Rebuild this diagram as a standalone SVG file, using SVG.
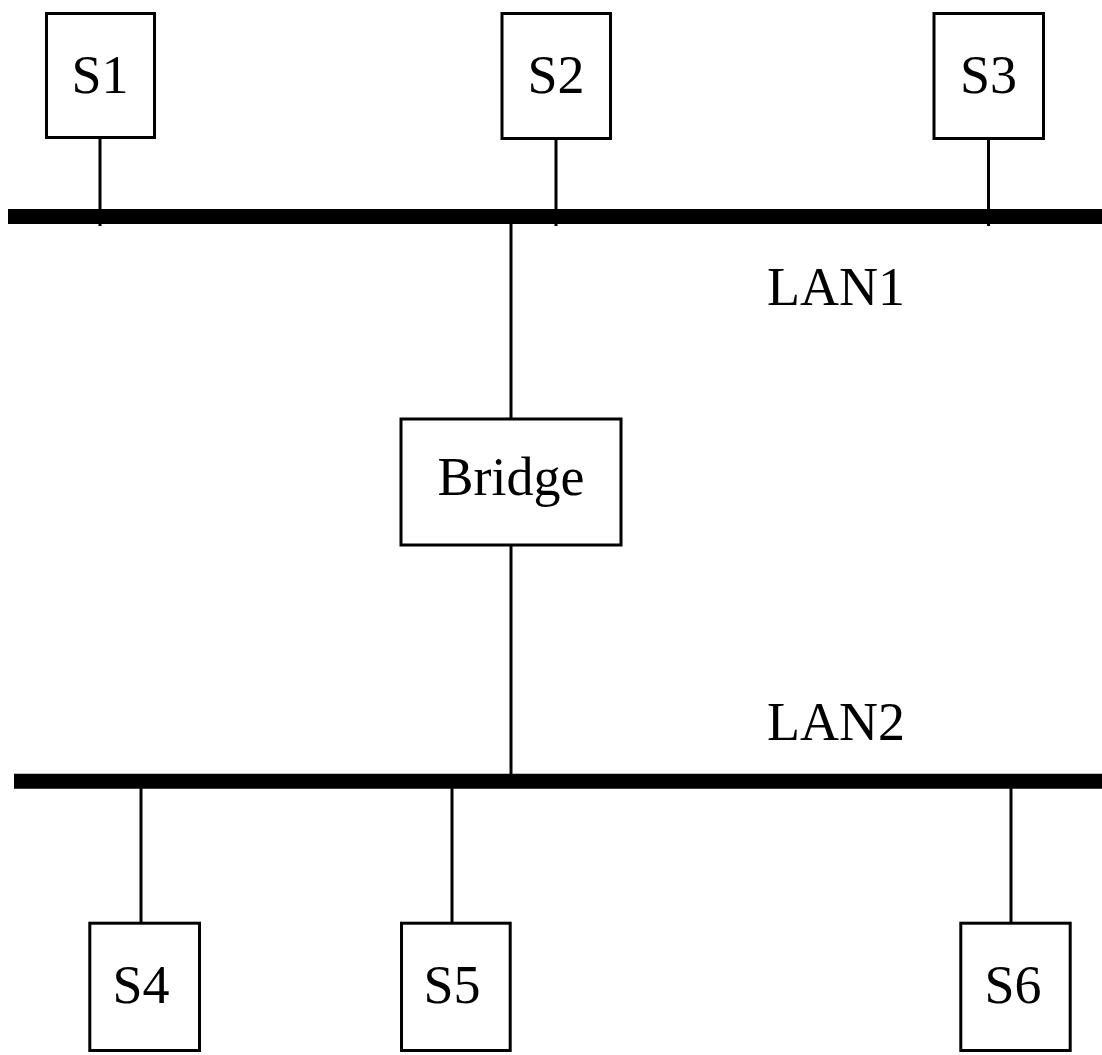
<svg xmlns="http://www.w3.org/2000/svg" width="1102" height="1055" viewBox="0 0 1102 1055">
<style>
.box{fill:#fff;stroke:#000;stroke-width:3}
.lbl{font-family:"Liberation Serif","Times New Roman",serif;font-size:54px;fill:#000;text-anchor:middle}
.lan{font-family:"Liberation Serif","Times New Roman",serif;font-size:54px;fill:#000}
.wire{stroke:#000;stroke-width:3;fill:none}
.bus{stroke:#000;stroke-width:15;fill:none}
</style>
<rect width="1102" height="1055" fill="#fff"/>
<g id="connectors">
<line class="wire" x1="100" y1="138" x2="100" y2="226"/>
<line class="wire" x1="556" y1="138" x2="556" y2="226"/>
<line class="wire" x1="988.5" y1="138" x2="988.5" y2="226"/>
<line class="wire" x1="511" y1="216" x2="511" y2="419"/>
<line class="wire" x1="511" y1="545" x2="511" y2="781"/>
<line class="wire" x1="141" y1="781" x2="141" y2="923"/>
<line class="wire" x1="452" y1="781" x2="452" y2="923"/>
<line class="wire" x1="1011" y1="781" x2="1011" y2="923"/>
</g>
<g id="LAN1">
<line class="bus" x1="8" y1="216.5" x2="1102" y2="216.5"/>
<text class="lan" x="767" y="305">LAN1</text>
</g>
<g id="LAN2">
<line class="bus" x1="14" y1="781.3" x2="1102" y2="781.3"/>
<text class="lan" x="767" y="740">LAN2</text>
</g>
<g id="S1"><rect class="box" x="46.5" y="13.5" width="108" height="124"/><text class="lbl" x="100" y="93">S1</text></g>
<g id="S2"><rect class="box" x="502" y="13.5" width="108.5" height="125"/><text class="lbl" x="556" y="93">S2</text></g>
<g id="S3"><rect class="box" x="934" y="13.5" width="109.5" height="125"/><text class="lbl" x="988.5" y="93">S3</text></g>
<g id="Bridge"><rect class="box" x="401" y="419" width="220" height="126"/><text class="lbl" x="511" y="495">Bridge</text></g>
<g id="S4"><rect class="box" x="89.8" y="923.2" width="109.7" height="127.3"/><text class="lbl" x="141" y="1003">S4</text></g>
<g id="S5"><rect class="box" x="401.5" y="923.2" width="108.7" height="127.3"/><text class="lbl" x="452" y="1003">S5</text></g>
<g id="S6"><rect class="box" x="960.8" y="923.2" width="109.4" height="127.3"/><text class="lbl" x="1013" y="1003">S6</text></g>
</svg>
